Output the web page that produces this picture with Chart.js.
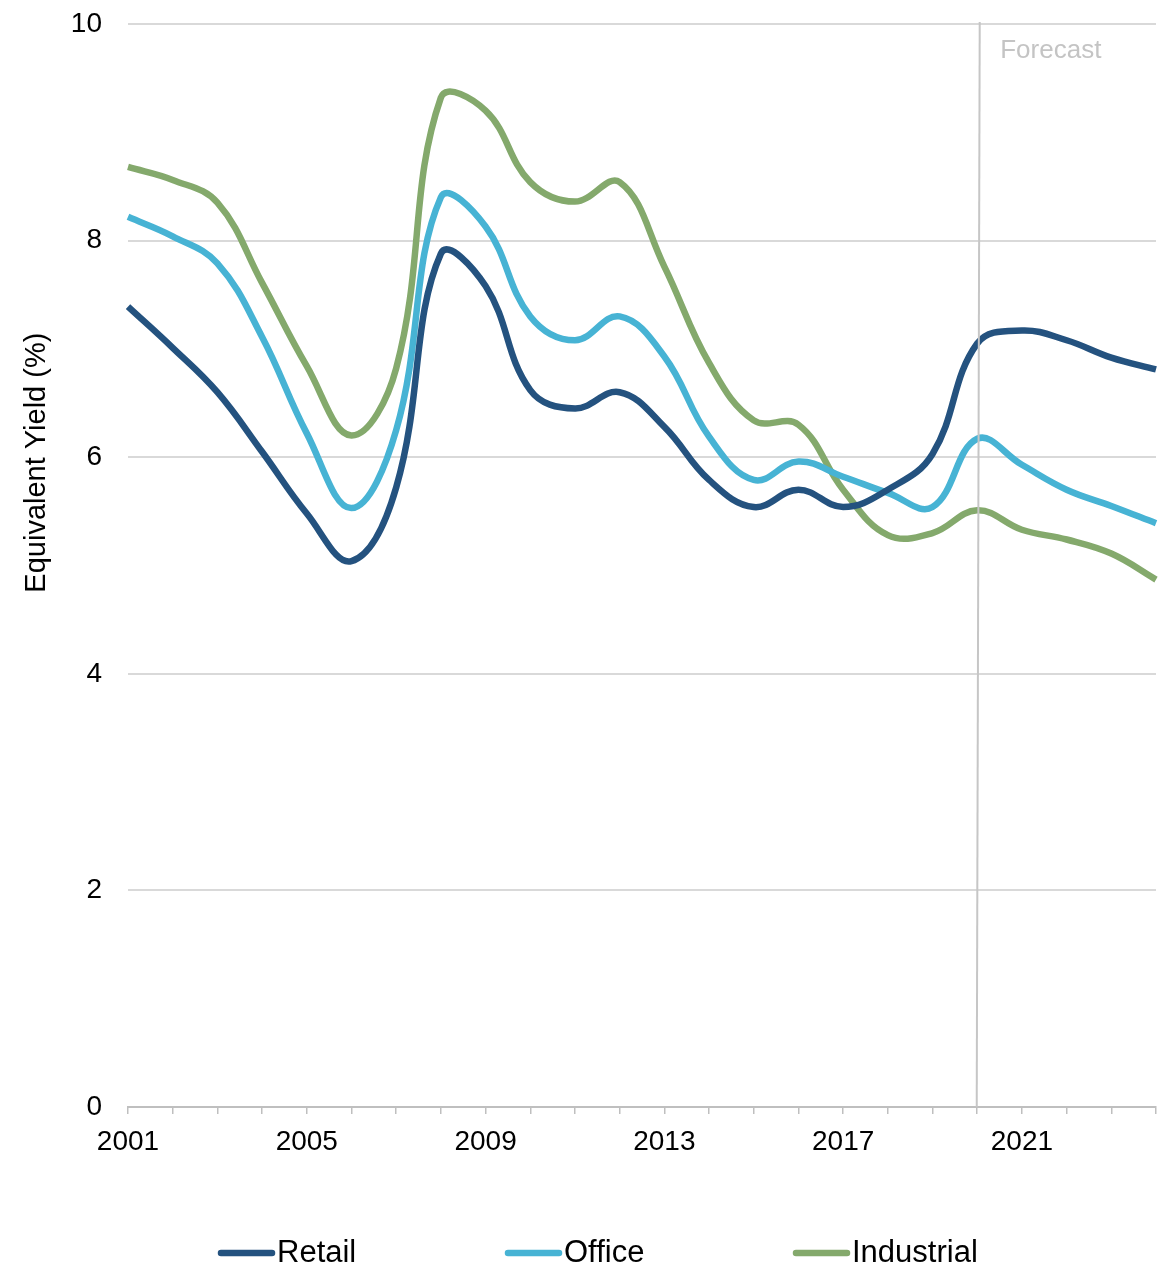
<!DOCTYPE html>
<html>
<head>
<meta charset="utf-8">
<title>Equivalent Yield</title>
<script src="https://cdn.jsdelivr.net/npm/chart.js@4.4.1/dist/chart.umd.min.js"></script>
<style>
  html, body { margin: 0; padding: 0; background: #ffffff; }
  #wrap { width: 1167px; height: 1270px; }
</style>
</head>
<body>
<div id="wrap"><canvas id="chart" width="1167" height="1270"></canvas></div>
<script>
// Annual equivalent yields (%) by sector
const years = ['2001','2002','2003','2004','2005','2006','2007','2008','2009','2010','2011','2012',
               '2013','2014','2015','2016','2017','2018','2019','2020','2021','2022','2023','2024'];
const retail     = [7.39, 7.01, 6.60, 6.05, 5.48, 5.04, 5.72, 7.88, 7.58, 6.62, 6.45, 6.60,
                    6.28, 5.79, 5.54, 5.70, 5.54, 5.70, 6.03, 7.05, 7.17, 7.08, 6.92, 6.81];
const office     = [8.22, 8.04, 7.79, 7.11, 6.22, 5.53, 6.25, 8.40, 8.13, 7.30, 7.08, 7.30,
                    6.93, 6.19, 5.79, 5.96, 5.82, 5.67, 5.54, 6.17, 5.93, 5.70, 5.55, 5.39];
const industrial = [8.68, 8.56, 8.35, 7.61, 6.84, 6.20, 6.82, 9.32, 9.20, 8.54, 8.36, 8.54,
                    7.76, 6.87, 6.34, 6.30, 5.70, 5.28, 5.30, 5.51, 5.33, 5.24, 5.11, 4.87];
const seriesNames = ['Retail', 'Office', 'Industrial'];
const yMin = 0, yMax = 10, yStep = 2;
const labelEvery = 4;
const forecastFrom = '2020';
const forecastText = 'Forecast';
const axisTitle = 'Equivalent Yield (%)';

const FONT = "'Liberation Sans', Arial, sans-serif";
const colors = ['#24527f', '#47b3d4', '#84a96c'];

// Vertical marker where the forecast period begins, with its caption
const forecastMarker = {
  id: 'forecastMarker',
  afterDatasetsDraw(chart) {
    const { ctx, chartArea, scales } = chart;
    const x = scales.x.getPixelForValue(years.indexOf(forecastFrom));
    ctx.save();
    ctx.strokeStyle = '#c6c6c6';
    ctx.lineWidth = 2;
    ctx.beginPath();
    ctx.moveTo(x + 2.5, chartArea.top - 2);
    ctx.lineTo(x - 0.5, chartArea.bottom);
    ctx.stroke();
    ctx.fillStyle = '#c4c4c4';
    ctx.font = '26px ' + FONT;
    ctx.textAlign = 'left';
    ctx.textBaseline = 'middle';
    ctx.fillText(forecastText, x + 23, chartArea.top + 27);
    ctx.restore();
  }
};

// Rotated y-axis caption
const yCaption = {
  id: 'yCaption',
  afterDraw(chart) {
    const { ctx, chartArea } = chart;
    ctx.save();
    ctx.translate(37, chartArea.top + (chartArea.bottom - chartArea.top) * 0.405);
    ctx.rotate(-Math.PI / 2);
    ctx.fillStyle = '#000000';
    ctx.font = '29px ' + FONT;
    ctx.textAlign = 'center';
    ctx.textBaseline = 'middle';
    ctx.fillText(axisTitle, 0, 0);
    ctx.restore();
  }
};

// Legend row under the axis: short round-capped line then series name
const lineLegend = {
  id: 'lineLegend',
  afterDraw(chart) {
    const { ctx } = chart;
    const starts = [218, 505, 793];
    const y = 1253;
    ctx.save();
    ctx.font = '31px ' + FONT;
    ctx.textBaseline = 'middle';
    ctx.textAlign = 'left';
    chart.data.datasets.forEach((ds, i) => {
      const x0 = starts[i];
      ctx.strokeStyle = ds.borderColor;
      ctx.lineWidth = 6.5;
      ctx.lineCap = 'round';
      ctx.beginPath();
      ctx.moveTo(x0 + 3, y);
      ctx.lineTo(x0 + 54, y);
      ctx.stroke();
      ctx.fillStyle = '#000000';
      ctx.fillText(ds.label, x0 + 59, y);
    });
    ctx.restore();
  }
};

const seriesData = [retail, office, industrial];

new Chart(document.getElementById('chart'), {
  type: 'line',
  data: {
    labels: years,
    datasets: seriesData.map((d, i) => ({
      label: seriesNames[i],
      data: d,
      borderColor: colors[i],
      backgroundColor: colors[i],
      borderWidth: 6.5,
      pointRadius: 0,
      pointHoverRadius: 0,
      tension: 0.4,
      fill: false
    }))
  },
  options: {
    responsive: false,
    animation: false,
    devicePixelRatio: 1,
    layout: { padding: { top: 24, right: 11, left: 0, bottom: 0 } },
    plugins: {
      legend: { display: false },
      tooltip: { enabled: false }
    },
    scales: {
      x: {
        type: 'category',
        offset: false,
        grid: {
          drawOnChartArea: false,
          drawTicks: true,
          tickLength: 7,
          color: '#bfbfbf',
          lineWidth: 1.5
        },
        border: { display: true, color: '#bfbfbf', width: 2 },
        ticks: {
          autoSkip: false,
          maxRotation: 0,
          minRotation: 0,
          padding: 11,
          color: '#000000',
          font: { family: FONT, size: 28 },
          callback: (v, i) => (i % labelEvery === 0 ? years[i] : '')
        },
        afterFit: (s) => { s.height = 163; }
      },
      y: {
        min: yMin,
        max: yMax,
        ticks: {
          stepSize: yStep,
          padding: 26,
          color: '#000000',
          font: { family: FONT, size: 28 }
        },
        grid: { color: '#d9d9d9', lineWidth: 2, drawTicks: false },
        border: { display: false },
        afterFit: (s) => { s.width = 128; s.paddingTop = 0; s.paddingBottom = 0; }
      }
    }
  },
  plugins: [forecastMarker, yCaption, lineLegend]
});
</script>
</body>
</html>
